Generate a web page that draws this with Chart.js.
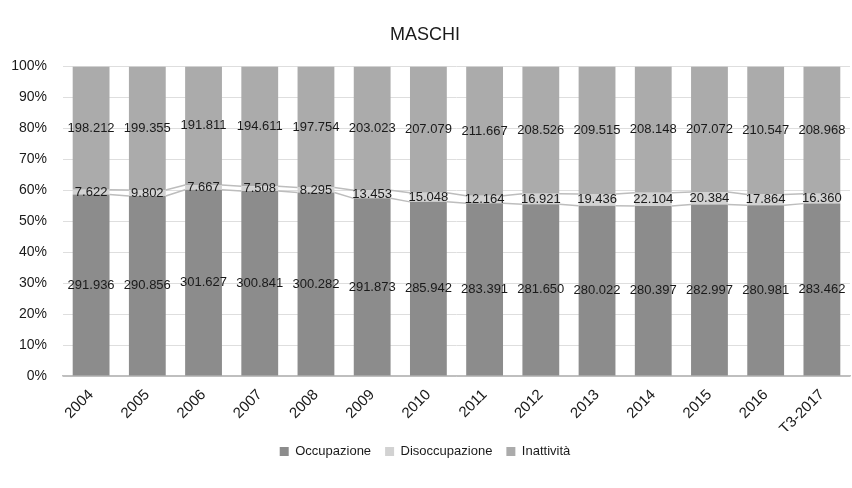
<!DOCTYPE html>
<html>
<head>
<meta charset="utf-8">
<script src="https://cdn.jsdelivr.net/npm/chart.js@4/dist/chart.umd.min.js"></script>
<style>
  html, body { margin: 0; padding: 0; background: #fff; }
  #wrap { width: 852px; height: 488px; }
</style>
</head>
<body>
<div id="wrap"><canvas id="c" width="852" height="488"></canvas></div>
<script>
const categories = ['2004','2005','2006','2007','2008','2009','2010','2011','2012','2013','2014','2015','2016','T3-2017'];
const occupazione = [291936, 290856, 301627, 300841, 300282, 291873, 285942, 283391, 281650, 280022, 280397, 282997, 280981, 283462];
const disoccupazione = [7622, 9802, 7667, 7508, 8295, 13453, 15048, 12164, 16921, 19436, 22104, 20384, 17864, 16360];
const inattivita = [198212, 199355, 191811, 194611, 197754, 203023, 207079, 211667, 208526, 209515, 208148, 207072, 210547, 208968];
const seriesNames = ['Occupazione', 'Disoccupazione', 'Inattività'];
const yTicks = [0, 10, 20, 30, 40, 50, 60, 70, 80, 90, 100];

const FONT = '"Liberation Sans", Arial, sans-serif';
const raw = [occupazione, disoccupazione, inattivita];
const totals = categories.map((_, i) => occupazione[i] + disoccupazione[i] + inattivita[i]);
const pct = raw.map(arr => arr.map((v, i) => v / totals[i] * 100));
const colors = ['#8c8c8c', '#d2d2d2', '#ababab'];

function fmt(v) {
  const th = Math.floor(v / 1000);
  const rest = String(v % 1000).padStart(3, '0');
  return th + '.' + rest;
}

const overlay = {
  id: 'overlay',
  afterDatasetsDraw(chart) {
    const ctx = chart.ctx;
    ctx.save();
    ctx.strokeStyle = '#bdbdbd';
    ctx.lineWidth = 1.5;
    for (let d = 0; d < 2; d++) {
      const meta = chart.getDatasetMeta(d);
      ctx.beginPath();
      for (let i = 0; i < meta.data.length - 1; i++) {
        const a = meta.data[i], b = meta.data[i + 1];
        ctx.moveTo(a.x + a.width / 2, a.y);
        ctx.lineTo(b.x - b.width / 2, b.y);
      }
      ctx.stroke();
    }
    ctx.fillStyle = '#1a1a1a';
    ctx.font = '13px ' + FONT;
    ctx.textAlign = 'center';
    ctx.textBaseline = 'middle';
    for (let d = 0; d < 3; d++) {
      const meta = chart.getDatasetMeta(d);
      meta.data.forEach((el, i) => {
        ctx.fillText(fmt(raw[d][i]), el.x, (el.y + el.base) / 2);
      });
    }
    ctx.restore();
  }
};

new Chart(document.getElementById('c'), {
  type: 'bar',
  data: {
    labels: categories,
    datasets: seriesNames.map((n, k) => ({
      label: n,
      data: pct[k],
      backgroundColor: colors[k],
      borderWidth: 0,
      categoryPercentage: 1,
      barPercentage: 0.655
    }))
  },
  options: {
    responsive: false,
    animation: false,
    events: [],
    layout: { padding: { left: 0, right: 2, top: 0, bottom: 20 } },
    plugins: {
      title: {
        display: true,
        text: 'MASCHI',
        color: '#1a1a1a',
        font: { family: FONT, size: 18, weight: 'normal', lineHeight: 1.2 },
        padding: { top: 24, bottom: 21 }
      },
      legend: {
        position: 'bottom',
        labels: {
          color: '#1a1a1a',
          font: { family: FONT, size: 13 },
          boxWidth: 9,
          boxHeight: 9,
          padding: 14
        }
      },
      tooltip: { enabled: false }
    },
    scales: {
      x: {
        stacked: true,
        grid: { display: false, drawTicks: false },
        border: { display: true, color: '#bfbfbf', width: 1.5 },
        ticks: {
          color: '#1a1a1a',
          font: { family: FONT, size: 15 },
          minRotation: 45,
          maxRotation: 45,
          padding: 10,
          autoSkip: false
        },
        afterFit(s) { s.height = 55; }
      },
      y: {
        stacked: true,
        min: 0,
        max: 100,
        afterBuildTicks(s) { s.ticks = yTicks.map(v => ({ value: v })); },
        grid: {
          drawTicks: false,
          color: c => (c.tick && c.tick.value === 0) ? '#bfbfbf' : '#dedede',
          lineWidth: 1
        },
        border: { display: false },
        ticks: {
          color: '#1a1a1a',
          font: { family: FONT, size: 14 },
          padding: 16,
          callback: v => v + '%'
        },
        afterFit(s) { s.width = 63; }
      }
    }
  },
  plugins: [overlay]
});
</script>
</body>
</html>
